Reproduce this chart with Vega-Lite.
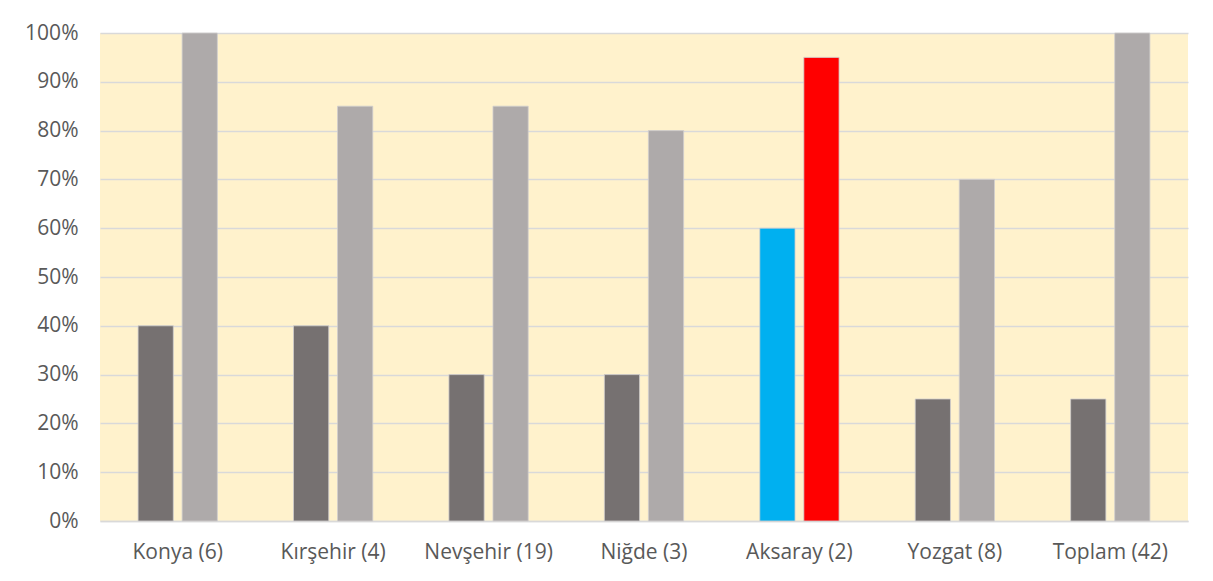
{
  "$schema": "https://vega.github.io/schema/vega-lite/v6.json",
  "autosize": "none",
  "width": 1088,
  "height": 488,
  "padding": {"left": 100, "top": 33, "right": 25, "bottom": 60},
  "background": "white",
  "data": {
    "values": [
      {"region": "Konya (6)", "bar": 1, "series": "Seri 1", "value": 0.40},
      {"region": "Konya (6)", "bar": 2, "series": "Seri 2", "value": 1.00},
      {"region": "Kırşehir (4)", "bar": 1, "series": "Seri 1", "value": 0.40},
      {"region": "Kırşehir (4)", "bar": 2, "series": "Seri 2", "value": 0.85},
      {"region": "Nevşehir (19)", "bar": 1, "series": "Seri 1", "value": 0.30},
      {"region": "Nevşehir (19)", "bar": 2, "series": "Seri 2", "value": 0.85},
      {"region": "Niğde (3)", "bar": 1, "series": "Seri 1", "value": 0.30},
      {"region": "Niğde (3)", "bar": 2, "series": "Seri 2", "value": 0.80},
      {"region": "Aksaray (2)", "bar": 1, "series": "Aksaray 1", "value": 0.60},
      {"region": "Aksaray (2)", "bar": 2, "series": "Aksaray 2", "value": 0.95},
      {"region": "Yozgat (8)", "bar": 1, "series": "Seri 1", "value": 0.25},
      {"region": "Yozgat (8)", "bar": 2, "series": "Seri 2", "value": 0.70},
      {"region": "Toplam (42)", "bar": 1, "series": "Seri 1", "value": 0.25},
      {"region": "Toplam (42)", "bar": 2, "series": "Seri 2", "value": 1.00}
    ]
  },
  "mark": {"type": "bar", "stroke": "#D0CECE", "strokeWidth": 0.8},
  "encoding": {
    "x": {
      "field": "region",
      "type": "nominal",
      "sort": null,
      "scale": {"paddingInner": 0.49, "paddingOuter": 0.245},
      "axis": {
        "title": null,
        "labelAngle": 0,
        "ticks": false,
        "domain": true,
        "domainColor": "#D9D9D9",
        "domainWidth": 1.5,
        "labelPadding": 20,
        "labelFontSize": 21,
        "labelFont": "Open Sans",
        "labelColor": "#595959"
      }
    },
    "xOffset": {
      "field": "bar",
      "type": "ordinal",
      "scale": {"paddingInner": 0.2}
    },
    "y": {
      "field": "value",
      "type": "quantitative",
      "scale": {"domain": [0, 1], "nice": false},
      "axis": {
        "title": null,
        "format": ".0%",
        "values": [0, 0.1, 0.2, 0.3, 0.4, 0.5, 0.6, 0.7, 0.8, 0.9, 1.0],
        "ticks": false,
        "domain": false,
        "grid": true,
        "gridColor": "#D9D9D9",
        "gridWidth": 1.5,
        "labelPadding": 22,
        "labelFontSize": 21,
        "labelFont": "Open Sans",
        "labelColor": "#595959"
      }
    },
    "color": {
      "field": "series",
      "type": "nominal",
      "scale": {
        "domain": ["Seri 1", "Seri 2", "Aksaray 1", "Aksaray 2"],
        "range": ["#767171", "#AEAAAA", "#00B0F0", "#FF0000"]
      },
      "legend": null
    }
  },
  "config": {
    "view": {"fill": "#FFF2CC", "stroke": null}
  }
}
